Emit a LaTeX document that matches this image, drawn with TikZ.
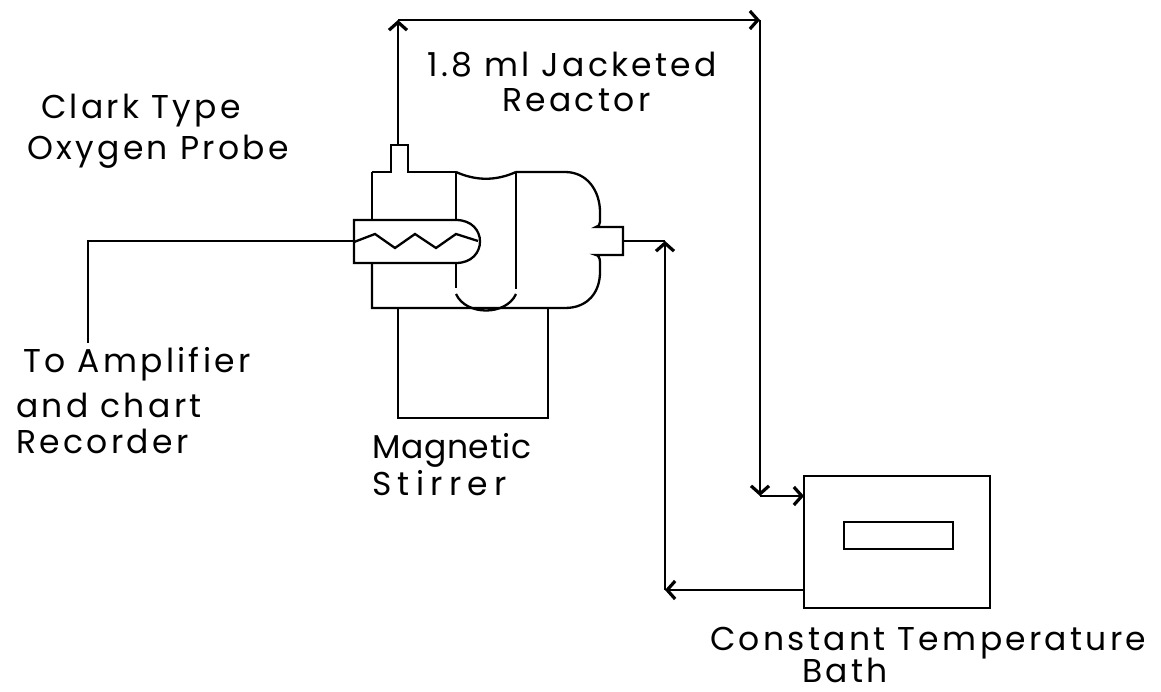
\documentclass[tikz,border=0pt]{standalone}
\usepackage{fontspec}
\setmainfont{Poppins}[LetterSpace=10]
\usetikzlibrary{arrows.meta}
\tikzset{
  line/.style={line width=2.3pt},
  flow/.style={line width=2.3pt, ->, >={Straight Barb[length=8pt,width=18pt,line width=3.2pt]}},
  box/.style={draw, line width=2.3pt, inner sep=0pt},
  lbl/.style={inner sep=0pt, anchor=base west, font=\fontsize{33}{36}\selectfont}
}
\begin{document}
\begin{tikzpicture}[x=1pt,y=-1pt]
\useasboundingbox (0,0) rectangle (1161,692);
\draw[line] (372,172)--(391,172)--(391,145)--(408,145)--(408,172)--(456,172);
\draw[line] (456,172) .. controls (476,181) and (496,181) .. (516,172);
\draw[line] (516,172)--(565,172) .. controls (588,172) and (600,192) .. (600,212)--(600,222) .. controls (600,225) and (598,227) .. (596,227)--(623,227)--(623,255)--(596,255) .. controls (598,255) and (600,258) .. (600,262)--(600,272) .. controls (600,292) and (588,308) .. (565,308)--(372,308)--(372,263);
\draw[line] (372,172)--(372,220);
\draw[line] (456,172)--(456,220);
\draw[line] (456,263)--(456,288);
\draw[line] (516,172)--(516,289);
\draw[line] (456,294) .. controls (466,316) and (506,316) .. (516,294);
\draw[line] (354,220)--(456,220) .. controls (488,220) and (488,263) .. (456,263)--(354,263)--cycle;
\draw[line] (354,242)--(375,234)--(395,248)--(415,234)--(436,248)--(456,234)--(478,241);
\node[box, minimum width=150pt, minimum height=110pt] (stirrer) at (473,363) {};
\node[box, minimum width=186pt, minimum height=132pt] (bath) at (897,542) {};
\node[box, minimum width=109pt, minimum height=27pt] (display) at (898.5,535.5) {};
\coordinate (neck) at (398,145);
\coordinate (port) at (623,241);
\coordinate (probe) at (354,241);
\coordinate (wire) at (88,241);
\coordinate (wireend) at (88,343);
\coordinate (topl) at (398,20);
\coordinate (topr) at (760,20);
\coordinate (bend) at (760,496);
\coordinate (bathin) at (804,496);
\coordinate (bathout) at (804,590);
\coordinate (retn) at (665,590);
\coordinate (retp) at (665,241);
\draw[line] (probe)--(wire)--(wireend);
\draw[line] (port)--(retp);
\draw[flow] (neck)--(topl);
\draw[flow] (topl)--(topr);
\draw[flow] (topr)--(bend);
\draw[flow] (bend)--(bathin);
\draw[flow] (bathout)--(retn);
\draw[flow] (retn)--(retp);
\node[lbl] (clark) at (41,119) {Clark Type};
\node[lbl] (oxygen) at (27,160) {Oxygen Probe};
\node[lbl] (ampa) at (23,372) {To Amplifier};
\node[lbl] (ampb) at (16,417) {and chart};
\node[lbl] (ampc) at (16,453) {Recorder};
\node[lbl] (maga) at (372,458) {\addfontfeature{LetterSpace=2}Magnetic};
\node[lbl] (magb) at (372,495) {\addfontfeature{LetterSpace=19}Stirrer};
\node[lbl] (reaca) at (427,77) {1.8 ml Jacketed};
\node[lbl] (reacb) at (502,112) {Reactor};
\node[lbl] (consta) at (710,650) {Constant Temperature};
\node[lbl] (constb) at (802,682) {Bath};
\end{tikzpicture}
\end{document}
